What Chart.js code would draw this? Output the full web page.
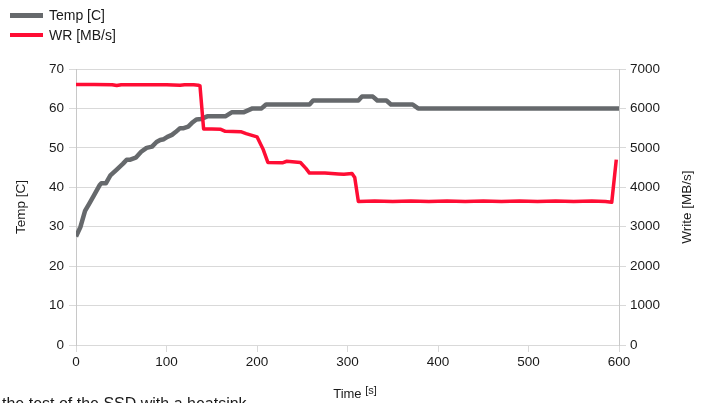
<!DOCTYPE html>
<html><head><meta charset="utf-8">
<script src="https://cdn.jsdelivr.net/npm/chart.js@4/dist/chart.umd.min.js"></script>
<style>
html,body{margin:0;padding:0;background:#fff;overflow:hidden;width:704px;height:403px}
#wrap{position:relative;width:704px;height:403px}
canvas{position:absolute;left:0;top:0}
.leg{position:absolute;left:10px;height:20px;font:14px "Liberation Sans",Arial,sans-serif;color:#1a1a1a;display:flex;align-items:center;white-space:nowrap}
.sw{display:inline-block;width:33px;height:4px;margin-right:6px}
.xt{position:absolute;left:305px;width:100px;text-align:center;top:384px;font:13px "Liberation Sans",Arial,sans-serif;color:#1a1a1a;white-space:nowrap}
.rt{position:absolute;left:638px;width:100px;top:198px;height:18px;line-height:18px;text-align:center;font:13.5px "Liberation Sans",Arial,sans-serif;color:#1a1a1a;white-space:nowrap;transform:rotate(-90deg)}
.note{position:absolute;left:2px;top:396px;font:16px/16px "Liberation Sans",Arial,sans-serif;color:#1a1a1a;white-space:nowrap}
</style></head>
<body><div id="wrap">
<canvas id="c" width="704" height="403"></canvas>
<div class="leg" style="top:5px"><span class="sw" style="background:#66696c;height:5px"></span>Temp [C]</div>
<div class="leg" style="top:25px"><span class="sw" style="background:#ff0d34"></span>WR [MB/s]</div>
<div class="xt">Time <span style="font-size:11px;vertical-align:4px">[s]</span></div>
<div class="rt">Write [MB/s]</div>
<div class="note">the test of the SSD with a heatsink</div>
</div>
<script>
const xTicks = [0,100,200,300,400,500,600];
const tempTicks = [0,10,20,30,40,50,60,70];
const writeTicks = [0,1000,2000,3000,4000,5000,6000,7000];

const tempTime = [0,5,10,15,20,26,28,33,38,45,52,56,60,66,72,78,84,89,93,97,101,106,110,115,119,124,129,133,138,145,165,172,185,190,195,205,210,258,262,312,316,328,333,343,348,372,378,600];
const tempValues = [27.5,30,34,36,38,40.5,41,41,43,44.5,46,47,47,47.5,49,50,50.3,51.5,52,52.2,52.8,53.3,54,55,55,55.4,56.5,57.2,57.3,58,58,59,59,59.5,60,60,61,61,62,62,63,63,62,62,61,61,60,60];

const wrTime = [0,20,40,45,50,80,100,115,120,130,135,137,141,150,160,165,182,188,200,207,212,228,233,248,254,258,275,290,296,305,308,312,330,350,370,390,410,430,450,470,490,510,530,550,570,585,592,597];
const wrValues = [6610,6610,6600,6580,6600,6600,6600,6590,6600,6600,6590,6570,5480,5480,5470,5420,5410,5360,5280,4950,4630,4620,4660,4630,4480,4360,4360,4340,4330,4350,4250,3640,3650,3640,3650,3640,3650,3640,3650,3640,3650,3640,3650,3640,3650,3640,3620,4700];

const gridCol = '#d9d9d9';
const tickFont = {family:'"Liberation Sans", Arial, sans-serif', size:13.5};
const tickCol = '#1a1a1a';

new Chart(document.getElementById('c'), {
  type:'line',
  data:{
    datasets:[
      {label:'Temp [C]', data: tempTime.map((t,i)=>({x:t,y:tempValues[i]})), yAxisID:'yT',
       borderColor:'#66696c', borderWidth:4.5, pointRadius:0, tension:0, order:2, borderJoinStyle:'round'},
      {label:'WR [MB/s]', data: wrTime.map((t,i)=>({x:t,y:wrValues[i]})), yAxisID:'yW',
       borderColor:'#ff0d34', borderWidth:3.5, pointRadius:0, tension:0, order:1, borderJoinStyle:'round'}
    ]
  },
  options:{
    responsive:false, animation:false, devicePixelRatio:1,
    layout:{padding:{top:69,left:0,right:0,bottom:0}},
    plugins:{legend:{display:false}, tooltip:{enabled:false}},
    scales:{
      x:{type:'linear', min:0, max:600,
        afterBuildTicks:s=>{s.ticks = xTicks.map(v=>({value:v}));},
        afterFit:s=>{s.height = 58;},
        grid:{drawOnChartArea:false, drawTicks:true, tickLength:7, color:gridCol},
        border:{display:false},
        ticks:{font:tickFont, color:tickCol, padding:2, maxRotation:0, callback:v=>String(v)}},
      yT:{type:'linear', position:'left', min:0, max:70,
        afterBuildTicks:s=>{s.ticks = tempTicks.map(v=>({value:v}));},
        afterFit:s=>{s.width = 76;},
        grid:{color:gridCol, tickLength:7, lineWidth:1},
        border:{display:true, color:'#c8c8c8'},
        ticks:{font:tickFont, color:tickCol, padding:5, callback:v=>String(v)},
        title:{display:true, text:'Temp [C]', font:{family:'"Liberation Sans", Arial, sans-serif', size:13.5}, color:tickCol, padding:{top:13,bottom:0}}},
      yW:{type:'linear', position:'right', min:0, max:7000,
        afterBuildTicks:s=>{s.ticks = writeTicks.map(v=>({value:v}));},
        afterFit:s=>{s.width = 85;},
        grid:{drawOnChartArea:false, color:gridCol, tickLength:7},
        border:{display:true, color:'#c8c8c8'},
        ticks:{font:tickFont, color:tickCol, padding:4, callback:v=>String(v)}}
    }
  }
});
</script>
</body></html>
